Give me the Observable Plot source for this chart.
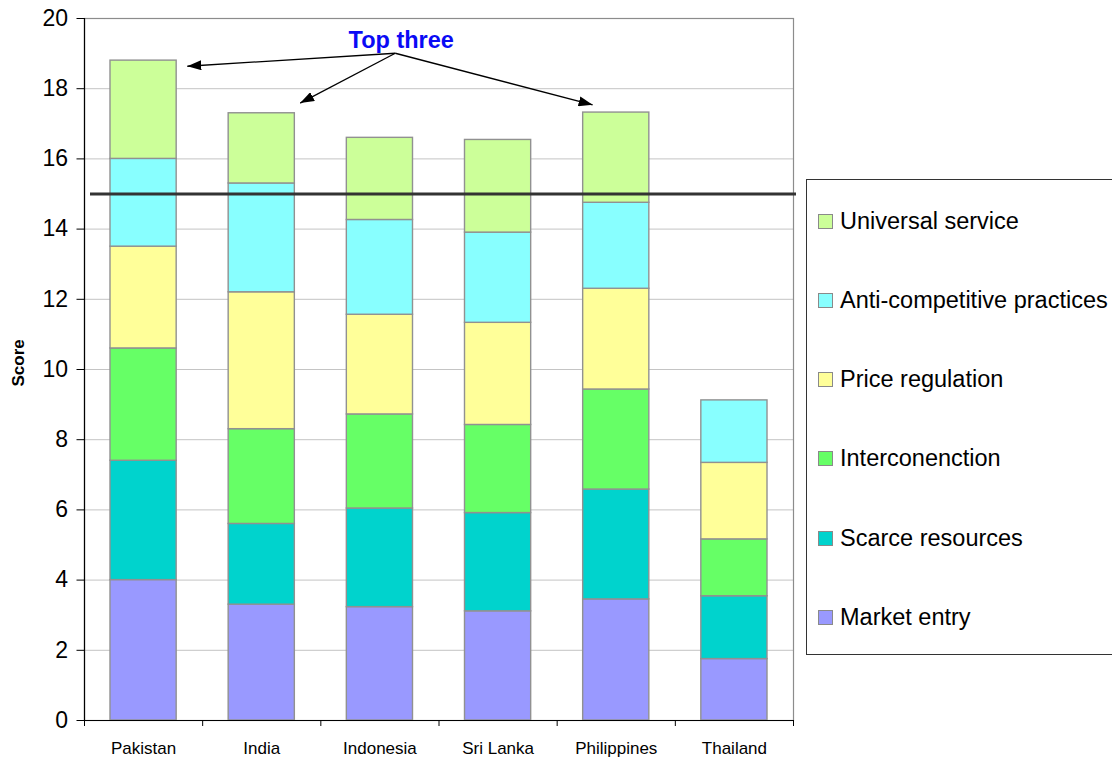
<!DOCTYPE html>
<html>
<head>
<meta charset="utf-8">
<script src="https://cdn.jsdelivr.net/npm/d3@7"></script>
<script src="https://cdn.jsdelivr.net/npm/@observablehq/plot@0.6"></script>
<style>
  html, body { margin: 0; padding: 0; background: #fff; }
  body { font-family: "Liberation Sans", Arial, Helvetica, sans-serif; }
  #wrap { position: relative; width: 1112px; height: 759px; overflow: hidden; }
  #legend { position: absolute; left: 806px; top: 179px; width: 330px; height: 476px;
            border: 1px solid #333; box-sizing: border-box; background: #fff; }
  .item { position: absolute; left: 11px; height: 26px; display: flex; align-items: center;
          font-size: 23.5px; color: #000; white-space: nowrap; }
  .sw { width: 13px; height: 13px; border: 1px solid #8a8a8a; margin-right: 7px; flex: none; }
</style>
</head>
<body>
<div id="wrap"><div id="legend"></div></div>
<script>
// ---- data ----
const countries = ["Pakistan", "India", "Indonesia", "Sri Lanka", "Philippines", "Thailand"];
const seriesNames = ["Market entry", "Scarce resources", "Interconenction", "Price regulation", "Anti-competitive practices", "Universal service"];
const seriesColors = ["#9999ff", "#00d3cd", "#66ff66", "#ffff99", "#88ffff", "#ccff99"];
const marketEntry      = [4.0, 3.3, 3.23, 3.11, 3.45, 1.75];
const scarceResources  = [3.4, 2.3, 2.81, 2.80, 3.13, 1.79];
const interconnection  = [3.2, 2.7, 2.68, 2.51, 2.85, 1.62];
const priceRegulation  = [2.9, 3.9, 2.84, 2.91, 2.87, 2.18];
const antiCompetitive  = [2.5, 3.1, 2.70, 2.57, 2.45, 1.78];
const universalService = [2.8, 2.0, 2.34, 2.64, 2.57, 0];
const yTicks = [0, 2, 4, 6, 8, 10, 12, 14, 16, 18, 20];
const threshold = 15;
const annotationLabel = "Top three";
const topThree = ["Pakistan", "India", "Philippines"];
// annotation geometry in data units (x = category index, y = score)
const annotationOrigin = {x: 2.13, y: 19.01};
const annotationTips = [
  {country: "Pakistan", x: 0.37, y: 18.64},
  {country: "India", x: 1.325, y: 17.59},
  {country: "Philippines", x: 3.80, y: 17.54}
];
const annotationText = {x: 2.18, y: 19.38};

// ---- build stacked table ----
const seriesValues = [marketEntry, scarceResources, interconnection, priceRegulation, antiCompetitive, universalService];
const halfBar = 0.28;
const rows = [];
countries.forEach((c, i) => {
  let acc = 0;
  seriesValues.forEach((vals, s) => {
    const v = vals[i];
    if (v > 0) rows.push({country: c, i, series: seriesNames[s], y1: acc, y2: acc + v});
    acc += v;
  });
});
const arrows = annotationTips.filter(d => topThree.includes(d.country))
  .map(d => ({x1: annotationOrigin.x, y1: annotationOrigin.y, x2: d.x, y2: d.y}));

const font = '"Liberation Sans", Arial, Helvetica, sans-serif';

const chart = Plot.plot({
  width: 800,
  height: 759,
  marginLeft: 84,
  marginRight: 7,
  marginTop: 18,
  marginBottom: 39,
  style: {fontFamily: font, color: "#000", background: "#fff", overflow: "visible"},
  x: {type: "linear", domain: [-0.5, countries.length - 0.5]},
  y: {domain: [0, 20]},
  color: {domain: seriesNames, range: seriesColors},
  marks: [
    Plot.gridY(yTicks, {stroke: "#c4c4c4", strokeOpacity: 1, strokeWidth: 1}),
    Plot.frame({stroke: "#8c8c8c", strokeWidth: 1.2}),
    Plot.rectY(rows, {
      x1: d => d.i - halfBar, x2: d => d.i + halfBar,
      y1: "y1", y2: "y2", fill: "series",
      stroke: "#919191", strokeWidth: 1.4
    }),
    Plot.ruleY([threshold], {stroke: "#333", strokeWidth: 3, insetLeft: 6, insetRight: -3}),
    Plot.ruleY([0], {stroke: "#000", strokeWidth: 1.2}),
    Plot.ruleX([-0.5], {stroke: "#000", strokeWidth: 1.2}),
    Plot.axisY({ticks: yTicks, tickSize: 7.5, tickPadding: 9, fontSize: 23, label: null, tickFormat: d => String(d)}),
    Plot.axisX({ticks: d3.range(-0.5, countries.length), tickSize: 6, tickFormat: () => "", label: null}),
    Plot.axisX({ticks: d3.range(countries.length), tickSize: 0, tickPadding: 21, fontSize: 17,
                tickFormat: i => countries[i], label: null}),
    Plot.text(["Score"], {frameAnchor: "left", dx: -66, dy: 17, rotate: -90,
                          fontWeight: "bold", fontSize: 17, fill: "#000"}),
    Plot.link(arrows, {x1: "x1", y1: "y1", x2: "x2", y2: "y2", stroke: "#000",
                       strokeWidth: 1.3, markerEnd: "arrow"}),
    Plot.text([annotationText], {x: "x", y: "y", text: () => annotationLabel,
                                 fill: "#0a0af5", fontWeight: "bold", fontSize: 23.5})
  ]
});

// turn the annotation arrow markers into filled arrowheads
d3.select(chart).selectAll("marker")
  .attr("viewBox", "-14 -5 14 10")
  .attr("refX", 0).attr("refY", 0)
  .attr("markerWidth", 14).attr("markerHeight", 10)
  .attr("markerUnits", "userSpaceOnUse")
  .attr("orient", "auto")
  .attr("fill", "#000").attr("stroke", "none")
  .selectAll("path")
  .attr("d", "M-14,-5L0,0L-14,5Z")
  .attr("fill", "#000").attr("stroke", "none");

const wrap = document.getElementById("wrap");
wrap.insertBefore(chart, wrap.firstChild);
chart.style.position = "absolute";
chart.style.left = "0px";
chart.style.top = "0px";

// legend (top entry = top of stack)
const legend = document.getElementById("legend");
const legendOrder = seriesNames.slice().reverse();
legendOrder.forEach((name, k) => {
  const item = document.createElement("div");
  item.className = "item";
  item.style.top = (41 + k * 79.3 - 13) + "px";
  const sw = document.createElement("span");
  sw.className = "sw";
  sw.style.background = seriesColors[seriesNames.indexOf(name)];
  const tx = document.createElement("span");
  tx.textContent = name;
  item.appendChild(sw);
  item.appendChild(tx);
  legend.appendChild(item);
});
</script>
</body>
</html>
